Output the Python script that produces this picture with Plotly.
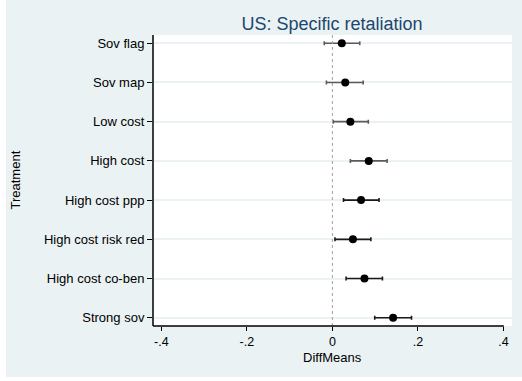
import plotly.graph_objects as go

treatments = ["Sov flag", "Sov map", "Low cost", "High cost", "High cost ppp",
              "High cost risk red", "High cost co-ben", "Strong sov"]
diff_means = [0.022, 0.030, 0.042, 0.085, 0.067, 0.048, 0.075, 0.142]
ci_low = [-0.019, -0.014, 0.002, 0.042, 0.026, 0.006, 0.032, 0.099]
ci_high = [0.064, 0.072, 0.084, 0.128, 0.109, 0.090, 0.117, 0.185]
bar_colors = ["#5c5c5c"] * 4 + ["#1a1a1a"] * 4
x_tickvals = [-0.4, -0.2, 0, 0.2, 0.4]
x_ticktext = ["-.4", "-.2", "0", ".2", ".4"]

W, H = 522, 381
ML, MR, MT, MB = 153, 10, 35, 55
PW, PH = W - ML - MR, H - MT - MB

BG = "#EAF2F3"
FONT = "Liberation Sans, Arial, sans-serif"

fig = go.Figure()

for i, t in enumerate(treatments):
    fig.add_trace(go.Scatter(
        x=[diff_means[i]], y=[i],
        mode="markers",
        marker=dict(color="black", size=8),
        error_x=dict(type="data", symmetric=False,
                     array=[ci_high[i] - diff_means[i]],
                     arrayminus=[diff_means[i] - ci_low[i]],
                     color=bar_colors[i], thickness=1.6, width=2),
        showlegend=False, hoverinfo="skip"))

shapes = [
    # white border strips (left and bottom)
    dict(type="rect", xref="paper", yref="paper", layer="above",
         x0=-ML / PW, x1=-(ML - 6) / PW, y0=-MB / PH, y1=1 + MT / PH,
         fillcolor="white", line=dict(width=0)),
    dict(type="rect", xref="paper", yref="paper", layer="above",
         x0=-ML / PW, x1=1 + MR / PW, y0=-MB / PH, y1=-(MB - 4) / PH,
         fillcolor="white", line=dict(width=0)),
    # zero reference line
    dict(type="line", xref="x", yref="paper", x0=0, x1=0, y0=0, y1=1,
         line=dict(color="#a0a0a0", width=1, dash="dot")),
    # x axis line spanning tick range
    dict(type="line", xref="x", yref="paper", x0=-0.4195, x1=0.401, y0=0, y1=0,
         layer="above", line=dict(color="black", width=1.5)),
    # y axis line
    dict(type="line", xref="paper", yref="paper", x0=0, x1=0, y0=0, y1=1,
         layer="above", line=dict(color="black", width=1.5)),
]

fig.update_layout(
    width=W, height=H,
    margin=dict(l=ML, r=MR, t=MT, b=MB, autoexpand=False),
    paper_bgcolor=BG,
    plot_bgcolor="white",
    font=dict(family=FONT, color="black", size=13),
    shapes=shapes,
    title=dict(text="US: Specific retaliation", x=332 / W,
               xanchor="center", y=1 - 24 / H, yanchor="middle",
               font=dict(family=FONT, size=18, color="#1A476F")),
    xaxis=dict(range=[-0.4195, 0.42], tickvals=x_tickvals, ticktext=x_ticktext,
               showgrid=False, zeroline=False, showline=False, automargin=False,
               ticks="outside", ticklen=4, tickcolor="black", tickwidth=1,
               tickfont=dict(size=12.5, family=FONT)),
    yaxis=dict(range=[7.21, -0.21], tickvals=list(range(len(treatments))),
               ticktext=treatments, showgrid=True, gridcolor=BG, gridwidth=1.5,
               zeroline=False, showline=False, automargin=False,
               ticks="outside", ticklen=5, tickcolor="black", tickwidth=1,
               tickfont=dict(size=13, family=FONT)),
    annotations=[
        dict(text="DiffMeans", xref="x", yref="paper", x=0, y=-(348 - MT - PH) / PH,
             showarrow=False, xanchor="center", yanchor="top",
             font=dict(size=13, family=FONT)),
        dict(text="Treatment", xref="paper", yref="paper", x=-(ML - 15) / PW, y=0.5,
             showarrow=False, xanchor="center", yanchor="middle", textangle=-90,
             font=dict(size=13, family=FONT)),
    ],
)

fig.write_html("out.html", config={"displayModeBar": False},
               post_script="document.body.style.margin='0';")
